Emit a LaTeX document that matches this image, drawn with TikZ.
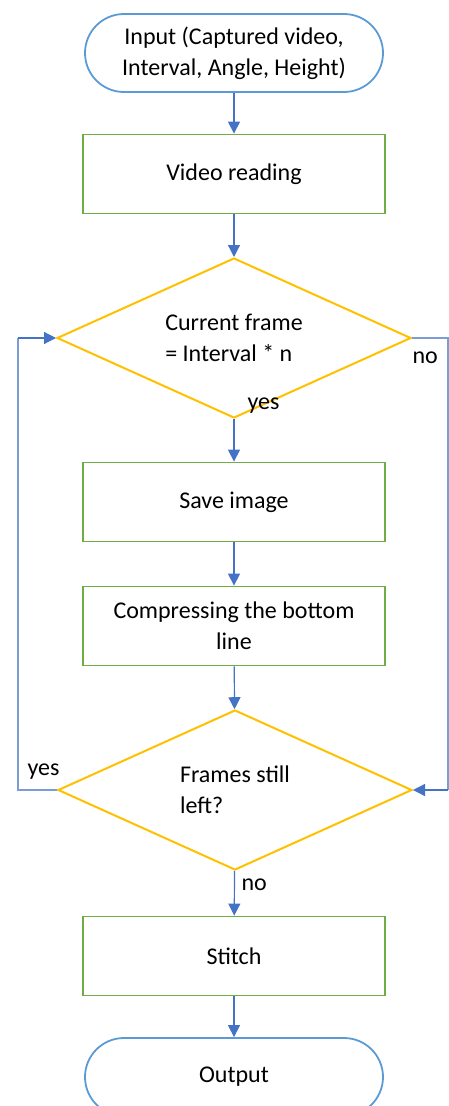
\documentclass[tikz,border=0pt]{standalone}
\usepackage{fontspec}
\setmainfont{Carlito}
\usetikzlibrary{shapes.geometric,arrows.meta}

\definecolor{lineblue}{HTML}{4472C4}
\definecolor{termblue}{HTML}{5B9BD5}
\definecolor{boxgreen}{HTML}{70AD47}
\definecolor{decgold}{HTML}{FFC000}

\begin{document}
\begin{tikzpicture}[x=1pt, y=-1pt,
  font=\fontsize{24}{31}\selectfont,
  term/.style={draw=termblue, line width=1.8pt, rounded corners=39pt,
    minimum width=298pt, minimum height=78pt, align=center},
  procbox/.style={draw=boxgreen, line width=1.8pt,
    minimum width=302pt, minimum height=79pt, align=center},
  decision/.style={diamond, draw=decgold, line width=2pt, aspect=2.2,
    minimum width=354pt, minimum height=160pt, inner sep=0pt, align=left},
  flow/.style={draw=lineblue, line width=1.2pt,
    -{Triangle[length=12pt,width=12pt]}},
  loopline/.style={draw=lineblue!70, line width=1.2pt}
  ]

  \useasboundingbox (0,0) rectangle (448,1106);

  \node[term]     (input)  at (234,  53) {Input (Captured video,\\Interval, Angle, Height)};
  \node[procbox]  (read)   at (234, 174) {Video reading};
  \node[decision] (isint)  at (234, 338) {Current frame\\= Interval * n};
  \node[procbox]  (save)   at (234, 502) {Save image};
  \node[procbox]  (squash) at (234, 626) {Compressing the bottom\\line};
  \node[decision] (left)   at (235, 790) {Frames still\\left?};
  \node[procbox]  (stitch) at (234, 956) {Stitch};
  \node[term]     (output) at (234,1077) {Output};

  % free corners of the two loops
  \coordinate (backup) at ( 18, 338);
  \coordinate (backdn) at ( 18, 790);
  \coordinate (skipup) at (448, 338);
  \coordinate (skipdn) at (448, 790);

  \draw[flow] (input) -- (read);
  \draw[flow] (read) -- (isint);
  \draw[flow] (isint) -- (save);
  \draw[flow] (save) -- (squash);
  \draw[flow] (squash) -- (left);
  \draw[flow] (left) -- (stitch);
  \draw[flow] (stitch) -- (output);

  % frames left -> back to the test
  \draw[loopline] (left.west) -- (backdn) -- (backup);
  \draw[flow] (backup) -- (isint.west);
  % not a saved frame -> skip to the check
  \draw[loopline] (isint.east) -- (skipup) -- (skipdn);
  \draw[flow] (skipdn) -- (left.east);

  \node[anchor=west] (yes1) at (244, 406) {yes};
  \node[anchor=west] (no1)  at (409, 358) {no};
  \node[anchor=west] (yes2) at ( 24, 772) {yes};
  \node[anchor=west] (no2)  at (238, 885) {no};
\end{tikzpicture}
\end{document}
